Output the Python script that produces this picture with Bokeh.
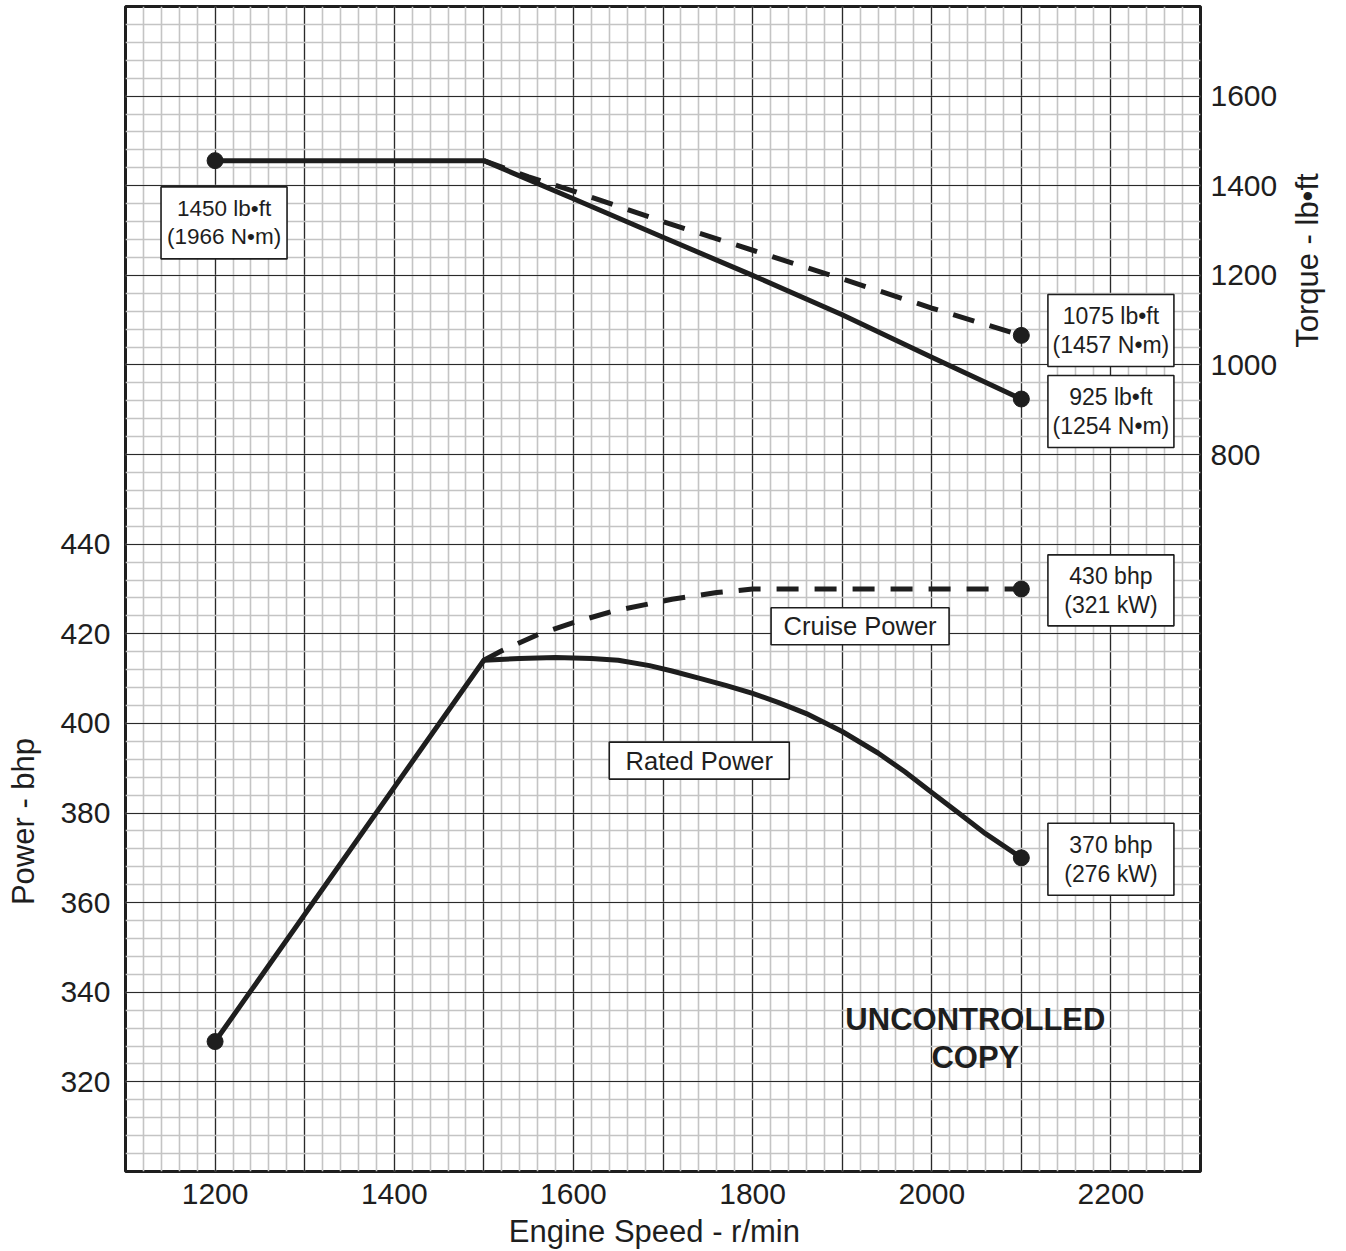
import math
from bokeh.plotting import figure
from bokeh.models import Range1d, LinearAxis, FixedTicker, ColumnDataSource
from bokeh.core.properties import value
from bokeh.embed import file_html
from bokeh.resources import INLINE

# ---------------- data ----------------
rpm_rated_torque = [1200, 1500, 1600, 1700, 1800, 1900, 2000, 2100]
rated_torque = [1456, 1456, 1371, 1285, 1200, 1112, 1017, 924]

rpm_cruise_torque = [1500, 1550, 1600, 1700, 1800, 1900, 2000, 2100]
cruise_torque = [1456, 1420, 1388, 1320, 1256, 1192, 1127, 1066]

rpm_rated_power = [1200, 1500, 1540, 1580, 1620, 1650, 1685, 1710, 1740, 1770,
                   1800, 1830, 1860, 1900, 1940, 1970, 2000, 2030, 2060, 2100]
rated_power = [329, 414.1, 414.5, 414.7, 414.5, 414.1, 412.9, 411.7, 410.1, 408.5,
               406.7, 404.6, 402.2, 398.2, 393.4, 389.2, 384.6, 380.0, 375.4, 370]

rpm_cruise_power = [1500, 1520, 1560, 1600, 1645, 1710, 1760, 1800, 2100]
cruise_power = [414.1, 416.2, 419.8, 422.5, 425.1, 427.7, 429.2, 430, 430]

x_ticks = [1200, 1400, 1600, 1800, 2000, 2200]
power_ticks = [320, 340, 360, 380, 400, 420, 440]
torque_ticks = [800, 1000, 1200, 1400, 1600]

# annotation boxes (rpm, bhp position; size in px)
box_text = ["1450 lb\u2022ft\n(1966 N\u2022m)", "1075 lb\u2022ft\n(1457 N\u2022m)",
            "925 lb\u2022ft\n(1254 N\u2022m)", "430 bhp\n(321 kW)",
            "370 bhp\n(276 kW)", "Cruise Power", "Rated Power"]
box_x = [1210, 2200, 2200, 2200, 2200, 1920, 1740.5]
box_y = [511.7, 487.7, 469.6, 429.7, 369.7, 421.7, 391.7]
box_w = [126, 126, 126, 126, 126, 178, 180]
box_h = [72, 72, 72, 71, 72, 37, 37]
box_fs = ["22.5px", "23px", "23px", "23px", "23px", "25.5px", "25.5px"]

FONT = "Liberation Sans"
INK = "#1e1e1e"
NB = "\u00a0"

p = figure(width=1346, height=1251,
           x_range=Range1d(1100, 2300), y_range=Range1d(300, 560),
           output_backend="svg", toolbar_location=None,
           min_border_left=125, min_border_right=146,
           min_border_top=6, min_border_bottom=78)
p.extra_y_ranges = {"torque": Range1d(-800, 1800)}

p.background_fill_color = "white"
p.border_fill_color = "white"
p.outline_line_color = INK
p.outline_line_width = 3

# grids
p.xgrid.ticker = FixedTicker(ticks=list(range(1200, 2300, 100)),
                             minor_ticks=list(range(1120, 2300, 20)))
p.ygrid.ticker = FixedTicker(ticks=list(range(320, 560, 20)),
                             minor_ticks=list(range(304, 560, 4)))
for g in (p.xgrid, p.ygrid):
    g.grid_line_color = "#2a2a2a"
    g.grid_line_width = 1.2
    g.minor_grid_line_color = "#c4c4c4"
    g.minor_grid_line_width = 1.6

# axes
def style_axis(ax, standoff, label_standoff):
    ax.axis_line_color = None
    ax.major_tick_line_color = None
    ax.minor_tick_line_color = None
    ax.major_tick_out = 0
    ax.major_tick_in = 0
    ax.major_label_standoff = standoff
    ax.major_label_text_font = FONT
    ax.major_label_text_font_size = "30px"
    ax.major_label_text_color = INK
    ax.axis_label_text_font = FONT
    ax.axis_label_text_font_size = "31px"
    ax.axis_label_text_font_style = "normal"
    ax.axis_label_text_color = INK
    ax.axis_label_standoff = label_standoff

xa = p.xaxis[0]
xa.ticker = FixedTicker(ticks=x_ticks)
xa.axis_label = "Engine Speed - r/min" + NB * 2
style_axis(xa, 12, 7)

ya = p.yaxis[0]
ya.ticker = FixedTicker(ticks=power_ticks)
# padded so the title sits centred on the power tick span
ya.axis_label = "Power - bhp" + NB * 54
style_axis(ya, 15, 16)

ra = LinearAxis(y_range_name="torque", ticker=FixedTicker(ticks=torque_ticks))
ra.axis_label = NB * 28 + "Torque  - lb\u2022ft"
style_axis(ra, 10, 27)
try:
    ra.axis_label_orientation = math.pi / 2
except Exception:
    pass
p.add_layout(ra, "right")

# curves
p.line(rpm_rated_torque, rated_torque, y_range_name="torque",
       line_color=INK, line_width=5, line_join="round")
p.line(rpm_cruise_torque, cruise_torque, y_range_name="torque",
       line_color=INK, line_width=5, line_dash="22 16")
p.line(rpm_rated_power, rated_power, line_color=INK, line_width=5,
       line_join="round")
p.line(rpm_cruise_power, cruise_power, line_color=INK, line_width=5,
       line_dash="22 16")

# end points
p.scatter([rpm_rated_torque[0], rpm_rated_torque[-1], rpm_cruise_torque[-1]],
          [rated_torque[0], rated_torque[-1], cruise_torque[-1]],
          y_range_name="torque", size=16, color=INK)
p.scatter([rpm_rated_power[0], rpm_rated_power[-1], rpm_cruise_power[-1]],
          [rated_power[0], rated_power[-1], cruise_power[-1]],
          size=16, color=INK)

# annotation boxes
src = ColumnDataSource(dict(x=box_x, y=box_y, w=box_w, h=box_h,
                            t=box_text, fs=box_fs))
p.rect(x="x", y="y", width="w", height="h", width_units="screen",
       height_units="screen", source=src, fill_color="white",
       line_color=INK, line_width=1.6)
p.text(x="x", y="y", text="t", source=src, text_font=value(FONT),
       text_font_size="fs", text_align="center", text_baseline="middle",
       text_line_height=1.12, text_color=INK)

p.text(x=[2048.7], y=[329.7], text=["UNCONTROLLED\nCOPY"],
       text_font=value(FONT), text_font_size="31px", text_font_style="bold",
       text_align="center", text_baseline="middle", text_line_height=1.1,
       text_color=INK)

open("out.html", "w").write(file_html(p, INLINE))
